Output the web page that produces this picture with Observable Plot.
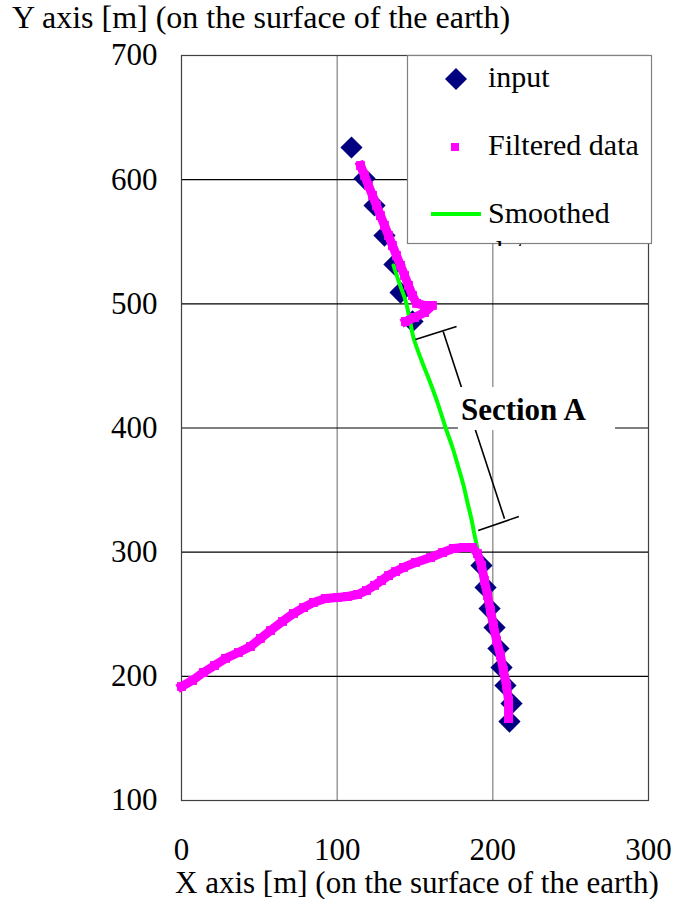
<!DOCTYPE html>
<html><head><meta charset="utf-8">
<script src="https://cdn.jsdelivr.net/npm/d3@7"></script>
<script src="https://cdn.jsdelivr.net/npm/@observablehq/plot@0.6"></script>
<style>
body{margin:0;background:#fff}
#chart{position:relative;width:677px;height:899px}
</style>
</head><body><div id="chart"></div>
<script>
// ---- Data ----
const xTicks = [0, 100, 200, 300];
const yTicks = [100, 200, 300, 400, 500, 600, 700];

// input (navy diamonds)
const inputX = [109.2, 117.6, 124.0, 130.4, 136.8, 140.7, 148.4,
                192.7, 195.3, 197.9, 201.1, 203.6, 205.6, 208.1, 212.0, 210.7];
const inputY = [625.9, 600.9, 579.2, 555.0, 531.7, 509.1, 485.8,
                289.3, 271.6, 254.6, 239.3, 222.4, 207.1, 192.6, 178.1, 163.6];

// Filtered data (magenta) - upper part
const filtUpperX = [115.0, 117.6, 120.1, 122.7, 125.3, 127.8, 130.4, 133.0, 135.5, 138.1,
                    140.7, 143.3, 145.8, 148.4, 151.0, 156.1, 161.2, 156.1, 149.7, 143.9];
const filtUpperY = [611.4, 603.4, 595.3, 587.3, 579.2, 571.1, 563.1, 555.0, 547.0, 538.9,
                    530.9, 522.8, 514.8, 506.7, 500.3, 498.7, 498.7, 493.0, 489.0, 485.8];
// Filtered data (magenta) - lower part
const filtLowerX = [0.0, 7.1, 14.1, 21.2, 28.3, 36.6, 44.3, 50.7, 57.2, 64.9, 71.9, 78.4, 84.8,
                    92.5, 100.2, 106.6, 113.1, 118.8, 124.0, 128.5, 133.0, 137.5, 142.6, 150.3,
                    160.0, 167.7, 174.7, 181.2, 186.9, 190.1, 192.7, 194.6, 196.6, 198.5, 200.4,
                    202.4, 204.9, 206.8, 208.8, 210.1, 210.1];
const filtLowerY = [191.8, 196.7, 203.1, 208.7, 214.4, 219.2, 224.0, 230.5, 236.9, 244.2, 250.6,
                    255.4, 259.5, 262.7, 263.5, 264.3, 265.9, 269.1, 273.2, 277.2, 281.2, 284.4,
                    287.7, 291.7, 295.7, 299.7, 303.0, 303.8, 303.8, 298.9, 289.3, 277.2, 265.1,
                    253.0, 240.9, 228.8, 216.8, 204.7, 192.6, 180.5, 166.0];

// Smoothed data (green)
const smoothX = [136.2, 140.0, 143.9, 146.5, 149.0, 154.2, 160.0, 165.1, 169.6, 174.1,
                 177.9, 181.2, 183.7, 186.3, 188.2, 190.1];
const smoothY = [530.9, 516.4, 502.7, 488.2, 472.9, 454.4, 435.8, 418.1, 400.4, 384.3,
                 368.2, 353.7, 340.0, 326.3, 314.2, 303.0];

// Section A annotation (bracket + leader)
const annoX1 = [150.3, 168.1, 190.6];
const annoY1 = [471.3, 477.7, 317.5];
const annoX2 = [176.7, 207.5, 216.7];
const annoY2 = [481.7, 326.9, 328.7];
const labelText = ["Section A"];
const labelX = [179.5];
const labelY = [414.8];
const labelBoxX = [177.9, 278.8];
const labelBoxY = [398.0, 432.6];

// ---- Build tables ----
const inputData = inputX.map((x, i) => ({x, y: inputY[i]}));
const filtData = [
  ...filtUpperX.map((x, i) => ({x, y: filtUpperY[i], seg: "upper"})),
  ...filtLowerX.map((x, i) => ({x, y: filtLowerY[i], seg: "lower"}))
];
const smoothData = smoothX.map((x, i) => ({x, y: smoothY[i]}));
const annoData = annoX1.map((x1, i) => ({x1, y1: annoY1[i], x2: annoX2[i], y2: annoY2[i]}));

const NAVY = "#000080", MAGENTA = "#ff00ff", GREEN = "#00ff00";

const chart = Plot.plot({
  width: 677,
  height: 899,
  marginLeft: 181,
  marginRight: 29,
  marginTop: 55,
  marginBottom: 99,
  style: {fontFamily: "'Liberation Serif', 'Times New Roman', serif", fontSize: "31px", background: "white"},
  x: {domain: [0, 300]},
  y: {domain: [100, 700]},
  marks: [
    Plot.gridX([100, 200], {stroke: "#808080", strokeOpacity: 1, strokeWidth: 1.2}),
    Plot.gridY([200, 300, 400, 500, 600], {stroke: "#000", strokeOpacity: 1, strokeWidth: 1.2}),
    Plot.frame({stroke: "#404040", strokeWidth: 1.2}),
    Plot.axisY({ticks: yTicks, tickSize: 0, tickPadding: 24, fontSize: 31, label: null}),
    Plot.axisX({ticks: xTicks, tickSize: 0, tickPadding: 37, fontSize: 31, label: null}),
    Plot.dot(inputData, {x: "x", y: "y", symbol: "diamond2", r: 10, fill: NAVY, stroke: "none"}),
    Plot.line(smoothData, {x: "x", y: "y", stroke: GREEN, strokeWidth: 4, curve: "catmull-rom"}),
    Plot.line(filtData, {x: "x", y: "y", z: "seg", stroke: MAGENTA, strokeWidth: 9, strokeLinejoin: "miter", strokeLinecap: "square"}),
    Plot.dot(filtData, {x: "x", y: "y", symbol: "square", r: 5, fill: MAGENTA, stroke: "none"}),
    Plot.link(annoData, {x1: "x1", y1: "y1", x2: "x2", y2: "y2", stroke: "#000", strokeWidth: 1.6}),
    Plot.rect([0], {x1: labelBoxX[0], x2: labelBoxX[1], y1: labelBoxY[0], y2: labelBoxY[1], fill: "white"}),
    Plot.text(labelText, {x: labelX, y: labelY, text: d => d, textAnchor: "start", fontWeight: "bold", fontSize: 31, fill: "#000"})
  ]
});

const svg = d3.select(chart);
// Axis titles
svg.append("text").attr("x", 12).attr("y", 28).attr("font-size", 32).attr("fill", "#000")
  .attr("text-anchor", "start")
  .text("Y axis [m] (on the surface of the earth)");
svg.append("text").attr("x", 175).attr("y", 893).attr("font-size", 31).attr("fill", "#000")
  .attr("text-anchor", "start")
  .text("X axis [m] (on the surface of the earth)");

// Legend
const lg = svg.append("g").attr("font-size", 30).attr("fill", "#000").attr("text-anchor", "start");
lg.append("rect").attr("x", 407.5).attr("y", 55.5).attr("width", 244).attr("height", 188)
  .attr("fill", "white").attr("stroke", "#808080").attr("stroke-width", 1.2);
lg.append("path").attr("d", "M456,68L467,79L456,90L445,79Z").attr("fill", NAVY);
lg.append("text").attr("x", 488).attr("y", 87).text("input");
lg.append("rect").attr("x", 451).attr("y", 143).attr("width", 8).attr("height", 8).attr("fill", MAGENTA);
lg.append("text").attr("x", 488).attr("y", 155).text("Filtered data");
lg.append("line").attr("x1", 431).attr("x2", 481).attr("y1", 214).attr("y2", 214)
  .attr("stroke", GREEN).attr("stroke-width", 4);
lg.append("text").attr("x", 488).attr("y", 223).text("Smoothed");
const defs = svg.append("defs");
defs.append("clipPath").attr("id", "lgclip").append("rect")
  .attr("x", 480).attr("y", 236).attr("width", 100).attr("height", 10);
lg.append("text").attr("x", 488).attr("y", 261).attr("clip-path", "url(#lgclip)").text("data");

document.getElementById("chart").appendChild(chart);
</script>
</body></html>
